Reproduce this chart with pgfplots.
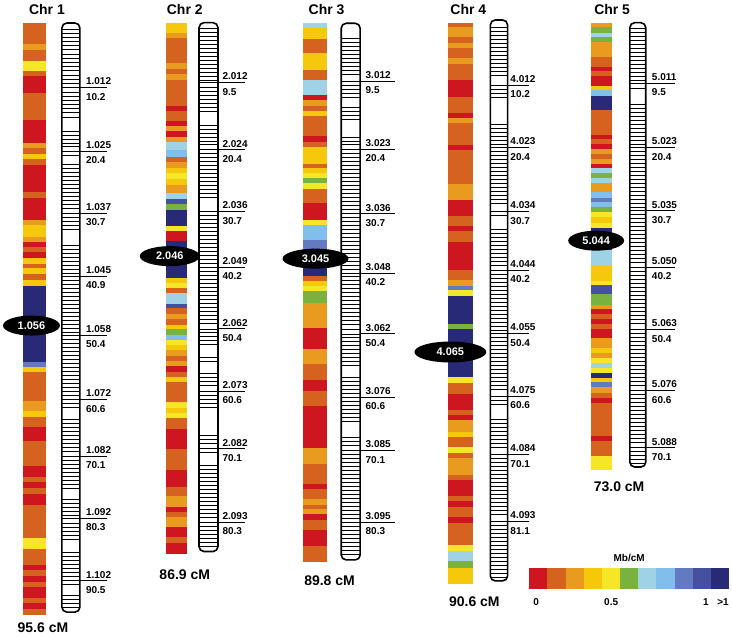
\documentclass[border=0pt]{standalone}
\usepackage{pgfplots}
\usepackage{pgfplotstable}
\pgfplotsset{compat=1.18}
\usepackage{fontspec}
\setmainfont{Liberation Sans}
\usetikzlibrary{shapes.geometric}

\definecolor{mb0}{RGB}{206,22,32}
\definecolor{mb1}{RGB}{213,98,30}
\definecolor{mb2}{RGB}{233,155,32}
\definecolor{mb3}{RGB}{246,200,12}
\definecolor{mb4}{RGB}{246,230,40}
\definecolor{mb5}{RGB}{122,178,64}
\definecolor{mb6}{RGB}{160,210,230}
\definecolor{mb7}{RGB}{130,190,235}
\definecolor{mb8}{RGB}{100,122,192}
\definecolor{mb9}{RGB}{70,80,160}
\definecolor{mb10}{RGB}{40,42,120}

\newcommand\lf{\fontsize{10}{12}\selectfont\bfseries}
\newcommand\tf{\fontsize{14}{16}\selectfont\bfseries}

% colour segments: start y, colour index (last row closes the bar)
\pgfplotstableread{
y c
22.7 1
44 2
50 1
60.7 4
70.7 1
76.7 0
93.3 1
120.7 0
143.3 2
148.3 1
154 3
159.3 1
165 0
192.7 1
198.3 0
220 2
225.3 3
237.3 2
242 0
247.3 1
252.7 0
258 3
264 1
268.7 3
274 1
280 3
286 10
363 8
368 3
373 1
402 2
412 3
418 1
428 0
442 1
467 0
478 1
483 0
489 1
495 0
506 1
539 4
550 1
566 0
571 1
577 0
583 1
588 0
599 1
604 0
610 1
615 1
}\chrA

\pgfplotstableread{
y c
22.7 3
32.7 2
38.3 1
63.3 2
69.3 1
74 2
80 1
106 0
111.7 1
121.7 0
126.7 2
131.7 0
137.3 2
142.7 6
150 7
157.3 1
162.7 2
168.3 3
173.3 4
179.3 3
185 2
193.3 6
199.3 9
204 5
210 10
226 4
231.7 0
241.7 10
278.3 3
283.3 4
288.3 1
293.3 6
304.3 9
309 1
315 2
320 1
325.7 3
330 5
335.7 7
340.7 4
345.7 3
351 2
356.7 1
361.7 2
366.7 0
372.3 1
377.7 3
382.3 1
402.3 4
408.3 3
413.3 4
419 1
430 0
450 1
471 0
487.7 1
496.7 2
507.7 0
513.3 1
518.3 2
528.3 0
538.3 1
544.3 0
554.3 0
}\chrB

\pgfplotstableread{
y c
23.3 6
28.3 3
39.3 1
53.3 3
70 1
80 6
95 0
100.7 2
106 1
111 3
116.7 1
136.7 0
142.7 1
147.3 3
164 1
168.3 3
173.3 4
178.3 5
183.3 4
189.3 1
203.3 0
220 4
225 7
240 8
250 10
276.7 1
281.7 3
286.7 4
291.7 5
303.3 2
329 0
350 2
365 1
381 0
391.7 1
406.7 0
448.3 2
464.3 1
484.3 0
490 1
500 2
505.7 1
510 2
515 0
521 1
531 0
546.7 1
561.7 1
}\chrC

\pgfplotstableread{
y c
22.7 1
27.3 2
37.3 1
42.7 2
48.3 1
58.3 2
64 1
80.7 0
97.3 1
113.3 0
118.3 2
123.3 1
145 0
150.7 1
184 2
200 0
216 1
226.7 0
231.7 1
242.7 0
270 1
280.7 2
286 8
291 4
296.7 10
324.3 5
330 10
377.7 4
383.3 1
394.3 0
411 1
415.7 0
421 2
432.3 3
437.7 1
447.7 4
453.3 1
459 2
475.7 1
480.7 0
496.7 1
502.3 0
507.7 1
518.3 0
524 1
545.7 4
552.3 6
561.7 5
569 3
584.3 3
}\chrD

\pgfplotstableread{
y c
22.7 2
27.3 5
32.7 6
37.3 5
42.3 2
56.7 1
66.7 0
71 1
76 0
86 3
90.7 7
96 10
110 1
135 0
139.3 1
144 0
149.3 2
154 1
159.3 2
164 0
168.3 6
173.3 5
178.3 6
183.3 2
192.7 7
198.3 8
202.7 7
207.3 5
212.7 4
217.3 3
223.3 4
228.3 10
250 6
265.7 3
281 4
285.7 9
295 5
305.7 2
310 0
315 1
320 0
325 1
330 0
339 2
348.3 3
353.3 2
358.3 4
363.3 6
368.3 4
373.3 10
378.3 3
382.7 8
387.7 2
393.3 1
398.3 0
403.3 1
436.7 0
441.7 1
456.7 4
470 4
}\chrE

% marker lines inside the linkage-map cylinders
\pgfplotstableread[row sep=\\]{y\\29\\33\\37\\41\\45\\49\\54\\58\\62\\66\\70\\75\\79\\83\\87.5\\92\\96\\100\\104\\108\\112\\117\\131\\135\\139\\143\\147\\151.5\\156\\165\\169\\173\\177\\181\\185\\189\\193\\197\\201\\205\\209\\213.5\\218\\222\\226\\230\\246\\250\\254\\258\\262\\266\\270\\274\\277\\281\\285\\289\\293\\297\\301\\305\\309\\313\\317\\321\\325\\329\\333\\336\\340\\344\\348\\352\\356\\360\\364\\368\\372\\376\\380\\384\\388\\392\\396\\400\\404\\408\\420\\424\\428\\432\\436\\440\\444\\448\\452\\456.5\\461\\465\\469\\473\\477\\481\\485\\489\\500\\504\\508\\512\\516\\519\\524\\528\\532\\536\\540\\553\\557\\561\\565\\569\\573\\577\\581.5\\585\\596\\600\\604\\608\\}\linA
\pgfplotstableread[row sep=\\]{y\\28\\32\\36\\40\\44\\48\\52\\56\\60\\64\\68\\72\\76\\80\\82.7\\87\\91\\95\\99\\103\\107\\111\\125\\129\\133\\137\\141\\145\\150\\154\\158\\162\\166\\170\\174\\178\\182\\186\\190\\194\\198\\211.7\\216\\220\\224\\228\\232\\236\\240\\244\\248\\252\\256\\260\\264\\267.7\\272\\276\\280\\284\\288\\292\\296\\300\\304\\308\\312\\316\\320\\324\\329.3\\333\\337\\341\\345\\358\\362\\374\\378\\382\\386\\391.7\\396\\400\\404\\408\\436\\440\\444\\449.3\\453\\466\\470\\474\\478\\482\\486\\490\\494\\498\\502\\506\\510\\514\\518\\522.7\\527\\531\\535\\539\\543\\547\\}\linB
\pgfplotstableread[row sep=\\]{y\\38\\42\\46\\50\\54\\58\\62\\66\\70\\74\\81\\85\\89\\93\\97\\107\\111\\115\\119\\137\\141\\145\\149.3\\154\\158\\162\\166\\170\\174\\178\\182\\186\\190\\194\\198\\202\\206\\210\\214\\218\\222\\226\\230\\234\\238\\242\\246\\250\\254\\258\\262\\266\\270\\273.3\\277\\281\\285\\289\\293\\297\\301\\305\\309\\313\\317\\321\\325\\330\\334.3\\338\\342\\346\\350\\354\\358\\362\\366\\378\\382\\386\\390\\394\\397.7\\402\\406\\410\\414\\418\\422\\438\\442\\446\\451\\455\\459\\463\\467\\471\\475\\479\\483\\487\\491\\495\\499\\503\\507\\511\\515\\519\\523\\527\\531\\535\\539\\543\\547\\551\\555\\}\linC
\pgfplotstableread[row sep=\\]{y\\27\\31\\35\\39\\43\\47\\51\\55\\59\\63\\67\\71\\75\\85\\89\\93\\97\\124\\128\\132\\136\\140\\144\\147.7\\152\\156\\160\\164\\168\\172\\176\\180\\184\\188\\192\\196\\200\\204\\211.7\\216\\230\\234\\238\\242\\246\\250\\254\\258\\262\\266\\270.7\\275\\279\\283\\287\\291\\295\\299\\303\\307\\311\\315\\319\\323\\327\\331\\334\\338\\342\\346\\350\\354\\358\\362\\366\\370\\374\\378\\382\\386\\390\\396.7\\401\\405\\420\\424\\428\\432\\436\\440\\444\\448\\455\\459\\463\\467\\471\\475\\479\\483\\487\\491\\495\\499\\503\\507\\511\\515\\522.3\\526\\530\\534\\538\\542\\546\\550\\554\\558\\562\\566\\570\\574\\578\\}\linD
\pgfplotstableread[row sep=\\]{y\\28\\32\\36\\40\\44\\48\\52\\56\\60\\64\\68\\72\\76\\80\\83.3\\88\\104\\108\\112\\116\\120\\124\\128\\132\\136\\140\\144\\147.7\\152\\156\\160\\164\\168\\172\\176\\180\\184\\188\\192\\196\\200\\204\\208\\211\\215\\219\\223\\227\\231\\235\\239\\243\\247\\251\\255\\259\\263\\267.7\\272\\276\\280\\284\\288\\292\\296\\300\\304\\308\\312\\316\\320\\324\\330\\334\\338\\342\\346\\350\\354\\358\\362\\366\\370\\374\\378\\382\\386\\391\\395\\399\\403\\407\\411\\415\\419\\423\\427\\431\\435\\439\\443\\448.3\\452\\456\\460\\464\\}\linE

\newcommand\drawchr[3]{%
  \pgfplotstablegetrowsof{#1}%
  \pgfmathtruncatemacro\lastrow{\pgfplotsretval-2}%
  \pgfplotsforeachungrouped \ii in {0,...,\lastrow}{%
    \pgfplotstablegetelem{\ii}{y}\of{#1}\let\ya\pgfplotsretval
    \pgfplotstablegetelem{\ii}{c}\of{#1}\let\cc\pgfplotsretval
    \pgfmathtruncatemacro\jj{\ii+1}%
    \pgfplotstablegetelem{\jj}{y}\of{#1}\let\yb\pgfplotsretval
    \edef\tmp{\noexpand\addplot[draw=mb\cc,line width=0.2pt,fill=mb\cc,forget plot] coordinates {(#2,\ya) (#3,\ya) (#3,\yb) (#2,\yb)};}%
    \tmp
  }%
}
\newcommand\lab[4]{%
  \node[anchor=south west,inner sep=0pt,font=\lf,yshift=2.3pt] at (axis cs:#1,#2) {#3};
  \node[anchor=north west,inner sep=0pt,font=\lf,yshift=-5.5pt] at (axis cs:#1,#2) {#4};
}
\tikzset{oval/.style={ellipse,fill=black,text=white,inner sep=0pt,font=\fontsize{11}{12}\selectfont\bfseries}}

\begin{document}
\begin{tikzpicture}
\begin{axis}[
  scale only axis, width=732pt, height=637pt,
  xmin=0, xmax=732, ymin=0, ymax=637, y dir=reverse,
  hide axis, clip=false,
]
\addplot[draw=none,forget plot] coordinates {(0,0) (732,637)};

% coloured recombination bars
\drawchr{\chrA}{23}{45}
\drawchr{\chrB}{166.7}{186.7}
\drawchr{\chrC}{303.3}{326.7}
\drawchr{\chrD}{448.3}{472.7}
\drawchr{\chrE}{592.3}{612.3}

% cylinder lines
\addplot[black, only marks, mark=-, mark size=9pt, mark options={line width=0.6pt}] table[x expr=71, y=y] {\linA};
\addplot[black, only marks, mark=-, mark size=9.5pt, mark options={line width=0.6pt}] table[x expr=208.8, y=y] {\linB};
\addplot[black, only marks, mark=-, mark size=9.5pt, mark options={line width=0.6pt}] table[x expr=351.2, y=y] {\linC};
\addplot[black, only marks, mark=-, mark size=8.65pt, mark options={line width=0.6pt}] table[x expr=499.65, y=y] {\linD};
\addplot[black, only marks, mark=-, mark size=8pt, mark options={line width=0.6pt}] table[x expr=638.7, y=y] {\linE};

% cylinders
\addplot[black, line width=1.6pt, rounded corners=5pt] coordinates {(62,23) (80,23) (80,613) (62,613)} -- cycle;
\addplot[black, line width=1.6pt, rounded corners=5pt] coordinates {(199.3,22.7) (218.3,22.7) (218.3,552.3) (199.3,552.3)} -- cycle;
\addplot[black, line width=1.6pt, rounded corners=5pt] coordinates {(341.7,23.3) (360.7,23.3) (360.7,560.7) (341.7,560.7)} -- cycle;
\addplot[black, line width=1.6pt, rounded corners=5pt] coordinates {(491,20) (508.3,20) (508.3,581.7) (491,581.7)} -- cycle;
\addplot[black, line width=1.6pt, rounded corners=5pt] coordinates {(630.7,22.7) (646.7,22.7) (646.7,467.7) (630.7,467.7)} -- cycle;

% label underlines
\addplot[black, only marks, mark=-, mark size=13.5pt, mark options={line width=0.7pt}] coordinates {(93.5,87.5) (93.5,151.5) (93.5,213.5) (93.5,276.5) (93.5,335.5) (93.5,400) (93.5,456.5) (93.5,519) (93.5,581.5)};
\addplot[black, only marks, mark=-, mark size=13.3pt, mark options={line width=0.7pt}] coordinates {(231.7,82.7) (231.7,150) (231.7,211.7) (231.7,267.7) (231.7,329.3) (231.7,391.7) (231.7,449.3) (231.7,522.7)};
\addplot[black, only marks, mark=-, mark size=17.2pt, mark options={line width=0.7pt}] coordinates {(377.9,81) (377.9,149.3) (377.9,214) (377.9,273.3) (377.9,334.3) (377.9,397.7) (377.9,451) (377.9,523)};
\addplot[black, only marks, mark=-, mark size=10.9pt, mark options={line width=0.7pt}] coordinates {(519.2,85) (519.2,147.7) (519.2,211.7) (519.2,270.7) (519.2,334) (519.2,396.7) (519.2,455) (519.2,522.3)};
\addplot[black, only marks, mark=-, mark size=14.7pt, mark options={line width=0.7pt}] coordinates {(661.3,83.3) (661.3,147.7) (661.3,211) (661.3,267.7) (661.3,330) (661.3,391) (661.3,448.3)};

% legend colour scale
\addplot[fill=mb0,draw=none] coordinates {(530,569) (548.2,569) (548.2,590) (530,590)};
\addplot[fill=mb1,draw=none] coordinates {(548.2,569) (566.4,569) (566.4,590) (548.2,590)};
\addplot[fill=mb2,draw=none] coordinates {(566.4,569) (584.5,569) (584.5,590) (566.4,590)};
\addplot[fill=mb3,draw=none] coordinates {(584.5,569) (602.7,569) (602.7,590) (584.5,590)};
\addplot[fill=mb4,draw=none] coordinates {(602.7,569) (620.9,569) (620.9,590) (602.7,590)};
\addplot[fill=mb5,draw=none] coordinates {(620.9,569) (639.1,569) (639.1,590) (620.9,590)};
\addplot[fill=mb6,draw=none] coordinates {(639.1,569) (657.3,569) (657.3,590) (639.1,590)};
\addplot[fill=mb7,draw=none] coordinates {(657.3,569) (675.5,569) (675.5,590) (657.3,590)};
\addplot[fill=mb8,draw=none] coordinates {(675.5,569) (693.6,569) (693.6,590) (675.5,590)};
\addplot[fill=mb9,draw=none] coordinates {(693.6,569) (711.8,569) (711.8,590) (693.6,590)};
\addplot[fill=mb10,draw=none] coordinates {(711.8,569) (730,569) (730,590) (711.8,590)};
\node[font=\lf] at (axis cs:630,559) {Mb/cM};
\node[font=\lf] at (axis cs:537,603) {0};
\node[font=\lf] at (axis cs:612,603) {0.5};
\node[font=\lf] at (axis cs:707,603) {1};
\node[font=\lf] at (axis cs:724,603) {>1};

% marker / position labels
\lab{86}{87.5}{1.012}{10.2}
\lab{86}{151.5}{1.025}{20.4}
\lab{86}{213.5}{1.037}{30.7}
\lab{86}{276.5}{1.045}{40.9}
\lab{86}{335.5}{1.058}{50.4}
\lab{86}{400}{1.072}{60.6}
\lab{86}{456.5}{1.082}{70.1}
\lab{86}{519}{1.092}{80.3}
\lab{86}{581.5}{1.102}{90.5}
\lab{222.7}{82.7}{2.012}{9.5}
\lab{222.7}{150}{2.024}{20.4}
\lab{222.7}{211.7}{2.036}{30.7}
\lab{222.7}{267.7}{2.049}{40.2}
\lab{222.7}{329.3}{2.062}{50.4}
\lab{222.7}{391.7}{2.073}{60.6}
\lab{222.7}{449.3}{2.082}{70.1}
\lab{222.7}{522.7}{2.093}{80.3}
\lab{366}{81}{3.012}{9.5}
\lab{366}{149.3}{3.023}{20.4}
\lab{366}{214}{3.036}{30.7}
\lab{366}{273.3}{3.048}{40.2}
\lab{366}{334.3}{3.062}{50.4}
\lab{366}{397.7}{3.076}{60.6}
\lab{366}{451}{3.085}{70.1}
\lab{366}{523}{3.095}{80.3}
\lab{511}{85}{4.012}{10.2}
\lab{511}{147.7}{4.023}{20.4}
\lab{511}{211.7}{4.034}{30.7}
\lab{511}{270.7}{4.044}{40.2}
\lab{511}{334}{4.055}{50.4}
\lab{511}{396.7}{4.075}{60.6}
\lab{511}{455}{4.084}{70.1}
\lab{511}{522.3}{4.093}{81.1}
\lab{652.7}{83.3}{5.011}{9.5}
\lab{652.7}{147.7}{5.023}{20.4}
\lab{652.7}{211}{5.035}{30.7}
\lab{652.7}{267.7}{5.050}{40.2}
\lab{652.7}{330}{5.063}{50.4}
\lab{652.7}{391}{5.076}{60.6}
\lab{652.7}{448.3}{5.088}{70.1}

% titles and lengths
\node[font=\tf] at (axis cs:47,10) {Chr 1};
\node[font=\tf] at (axis cs:185,10) {Chr 2};
\node[font=\tf] at (axis cs:327,10) {Chr 3};
\node[font=\tf] at (axis cs:469,10) {Chr 4};
\node[font=\tf] at (axis cs:613,10) {Chr 5};
\node[font=\tf] at (axis cs:43,629) {95.6 cM};
\node[font=\tf] at (axis cs:185,575) {86.9 cM};
\node[font=\tf] at (axis cs:330,582) {89.8 cM};
\node[font=\tf] at (axis cs:475,603) {90.6 cM};
\node[font=\tf] at (axis cs:620,487) {73.0 cM};

% centromere ovals
\node[oval,minimum width=57pt,minimum height=20pt] at (axis cs:31.5,326) {1.056};
\node[oval,minimum width=60pt,minimum height=20pt] at (axis cs:170,256.5) {2.046};
\node[oval,minimum width=66pt,minimum height=20pt] at (axis cs:316,259) {3.045};
\node[oval,minimum width=72pt,minimum height=21pt] at (axis cs:451,352.5) {4.065};
\node[oval,minimum width=56pt,minimum height=20pt] at (axis cs:597,241) {5.044};
\end{axis}
\end{tikzpicture}
\end{document}
